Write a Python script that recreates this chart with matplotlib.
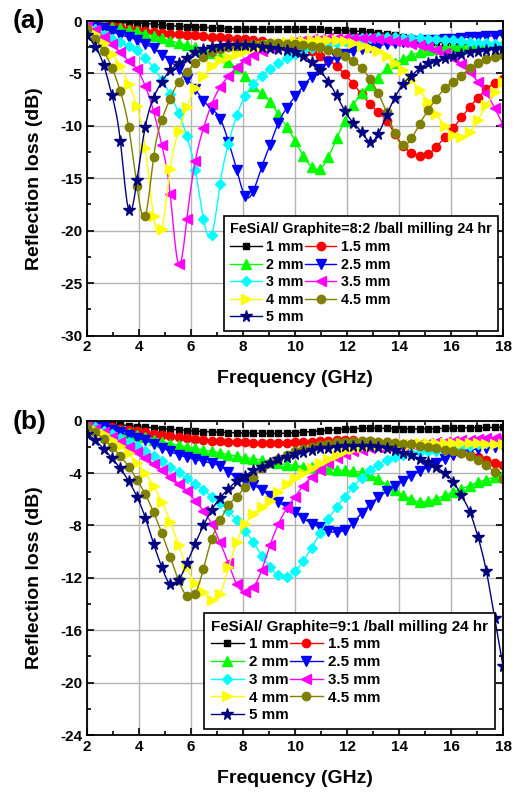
import matplotlib
matplotlib.use('Agg')
import matplotlib.pyplot as plt
import numpy as np
from matplotlib.ticker import MultipleLocator
from matplotlib.lines import Line2D

plt.rcParams['font.family'] = ['Liberation Sans', 'DejaVu Sans']
plt.rcParams['font.weight'] = 'bold'
plt.rcParams['axes.unicode_minus'] = False

# frequency grid (GHz), 51 points from 2 to 18
freq = np.linspace(2, 18, 51)
labels = ['1 mm', '1.5 mm', '2 mm', '2.5 mm', '3 mm', '3.5 mm', '4 mm', '4.5 mm', '5 mm']

########## (a) FeSiAl/Graphite = 8:2 ##########
a_1mm = [0, -0.05, -0.1, -0.12, -0.15, -0.18, -0.2, -0.25, -0.3, -0.38,
         -0.45, -0.5, -0.55, -0.58, -0.6, -0.65, -0.7, -0.72, -0.74, -0.75,
         -0.76, -0.76, -0.77, -0.77, -0.78, -0.78, -0.79, -0.8, -0.8, -0.82,
         -0.85, -0.9, -0.95, -1.0, -1.05, -1.1, -1.2, -1.35, -1.5, -1.6,
         -1.8, -1.9, -2.0, -2.08, -2.15, -2.22, -2.3, -2.38, -2.45, -2.52, -2.6]
a_15mm = [0, -0.2, -0.3, -0.45, -0.6, -0.75, -0.85, -0.95, -1.05, -1.1,
          -1.2, -1.25, -1.3, -1.35, -1.45, -1.5, -1.55, -1.6, -1.7, -1.75,
          -1.85, -1.95, -2.05, -2.15, -2.3, -2.45, -2.65, -2.9, -3.3, -3.7,
          -4.3, -5.1, -6.0, -7.0, -7.9, -8.7, -9.5, -10.8, -11.9, -12.6,
          -12.9, -12.7, -12.0, -11.1, -10.2, -9.2, -8.2, -7.3, -6.5, -5.9, -5.5]
a_2mm = [-0.1, -0.25, -0.4, -0.55, -0.7, -0.85, -1.0, -1.2, -1.4, -1.65,
         -1.9, -2.1, -2.3, -2.5, -2.75, -3.05, -3.45, -3.9, -4.5, -5.2,
         -6.2, -6.9, -7.7, -8.9, -10.1, -11.4, -12.9, -13.9, -14.1, -13.0,
         -11.2, -9.5, -8.0, -6.9, -6.1, -5.4, -4.5, -4.0, -3.6, -3.25,
         -3.0, -2.8, -2.65, -2.5, -2.4, -2.35, -2.3, -2.25, -2.2, -2.15, -2.1]
a_25mm = [-0.2, -0.4, -0.7, -1.0, -1.3, -1.55, -1.8, -2.2, -2.6, -3.2,
          -3.8, -4.6, -5.5, -6.5, -7.6, -8.4, -9.3, -11.5, -14.2, -16.7,
          -16.2, -13.9, -11.8, -9.7, -8.3, -7.2, -6.2, -5.3, -4.6, -3.9,
          -3.5, -3.15, -2.9, -2.7, -2.5, -2.35, -2.2, -2.1, -2.0, -1.95,
          -1.9, -1.85, -1.8, -1.75, -1.7, -1.6, -1.55, -1.5, -1.45, -1.4, -1.35]
a_3mm = [-0.3, -0.8, -1.3, -1.7, -2.0, -2.4, -2.8, -3.5, -4.5, -5.6,
         -7.0, -8.75, -11.0, -14.2, -18.9, -20.4, -15.5, -11.7, -9.0, -7.2,
         -6.0, -5.2, -4.6, -4.05, -3.5, -3.1, -2.8, -2.6, -2.45, -2.25,
         -2.05, -1.9, -1.75, -1.65, -1.6, -1.55, -1.55, -1.55, -1.6, -1.62,
         -1.65, -1.7, -1.75, -1.8, -1.85, -1.9, -2.0, -2.05, -2.1, -2.2, -2.3]
a_35mm = [-0.5, -0.9, -1.5, -2.2, -3.0, -3.8, -4.6, -6.2, -8.6, -11.85,
          -16.5, -23.2, -18.9, -13.4, -10.2, -7.9, -6.3, -5.25, -4.4, -3.75,
          -3.25, -2.85, -2.55, -2.3, -2.1, -1.95, -1.85, -1.75, -1.7, -1.65,
          -1.62, -1.6, -1.6, -1.62, -1.65, -1.7, -1.8, -1.9, -2.0, -2.15,
          -2.3, -2.5, -2.75, -3.05, -3.5, -4.1, -4.9, -5.8, -6.9, -8.3, -9.9]
a_4mm = [-0.6, -1.2, -2.1, -3.1, -4.3, -6.0, -8.1, -12.1, -18.6, -19.8,
         -14.1, -10.5, -8.2, -6.4, -5.25, -4.3, -3.7, -3.4, -3.1, -2.85,
         -2.6, -2.4, -2.25, -2.1, -2.0, -1.95, -1.9, -1.85, -1.8, -1.8,
         -1.85, -1.95, -2.1, -2.35, -2.6, -2.9, -3.3, -4.0, -4.7, -5.6,
         -6.6, -7.7, -8.9, -10.0, -10.9, -11.1, -10.6, -9.4, -8.0, -6.8, -5.8]
a_45mm = [-0.8, -1.7, -2.9, -4.45, -6.7, -10.1, -15.7, -18.6, -13.0, -9.4,
          -7.4, -5.8, -4.85, -4.0, -3.4, -3.0, -2.7, -2.5, -2.35, -2.25,
          -2.2, -2.15, -2.1, -2.1, -2.15, -2.2, -2.25, -2.35, -2.5, -2.75,
          -3.0, -3.35, -3.8, -4.5, -5.5, -6.9, -8.7, -10.7, -11.85, -11.2,
          -9.8, -8.5, -7.4, -6.4, -5.8, -5.2, -4.5, -4.05, -3.65, -3.4, -3.25]
a_5mm = [-1.3, -2.45, -4.2, -7.1, -11.4, -18.0, -15.2, -10.1, -7.3, -5.8,
         -4.7, -4.05, -3.5, -3.0, -2.7, -2.5, -2.35, -2.3, -2.3, -2.3,
         -2.35, -2.45, -2.55, -2.65, -2.8, -3.0, -3.3, -3.9, -4.7, -5.8,
         -7.1, -8.6, -9.7, -10.6, -11.5, -10.8, -9.0, -7.3, -6.0, -5.2,
         -4.5, -4.05, -3.8, -3.55, -3.3, -3.1, -3.0, -2.9, -2.75, -2.65, -2.6]

########## (b) FeSiAl/Graphite = 9:1 ##########
b_1mm = [0, -0.1, -0.15, -0.22, -0.3, -0.38, -0.45, -0.5, -0.55, -0.6,
         -0.65, -0.7, -0.75, -0.8, -0.83, -0.86, -0.89, -0.91, -0.93, -0.95,
         -0.96, -0.97, -0.97, -0.96, -0.95, -0.92, -0.88, -0.83, -0.78, -0.73,
         -0.68, -0.64, -0.6, -0.58, -0.57, -0.57, -0.58, -0.6, -0.62, -0.63,
         -0.63, -0.62, -0.6, -0.58, -0.57, -0.55, -0.54, -0.53, -0.52, -0.51, -0.5]
b_15mm = [-0.05, -0.2, -0.35, -0.5, -0.6, -0.7, -0.8, -0.9, -1.0, -1.1,
          -1.2, -1.28, -1.35, -1.42, -1.48, -1.53, -1.57, -1.6, -1.63, -1.65,
          -1.67, -1.68, -1.68, -1.68, -1.67, -1.65, -1.62, -1.59, -1.56, -1.53,
          -1.5, -1.5, -1.5, -1.52, -1.55, -1.6, -1.65, -1.7, -1.75, -1.8,
          -1.85, -1.95, -2.05, -2.15, -2.3, -2.45, -2.6, -2.8, -3.0, -3.2, -3.4]
b_2mm = [-0.1, -0.33, -0.55, -0.7, -0.82, -0.95, -1.1, -1.28, -1.45, -1.6,
         -1.75, -1.88, -2.0, -2.12, -2.23, -2.35, -2.45, -2.6, -2.72, -2.82,
         -2.9, -3.0, -3.12, -3.25, -3.35, -3.42, -3.5, -3.56, -3.62, -3.68,
         -3.74, -3.8, -3.85, -3.95, -4.15, -4.45, -4.9, -5.3, -5.7, -6.0,
         -6.2, -6.15, -5.95, -5.7, -5.45, -5.2, -4.95, -4.7, -4.5, -4.3, -4.1]
b_25mm = [-0.1, -0.3, -0.5, -0.7, -0.9, -1.1, -1.3, -1.5, -1.75, -2.05,
          -2.35, -2.6, -2.8, -2.95, -3.1, -3.25, -3.45, -3.9, -4.35, -4.6,
          -4.9, -5.3, -5.75, -6.2, -6.6, -7.0, -7.45, -7.85, -8.15, -8.45,
          -8.5, -8.35, -7.8, -7.05, -6.4, -5.85, -5.4, -5.0, -4.6, -4.2,
          -3.85, -3.5, -3.2, -2.9, -2.6, -2.4, -2.25, -2.15, -2.05, -2.0, -1.95]
b_3mm = [-0.2, -0.5, -0.75, -1.0, -1.3, -1.6, -1.9, -2.3, -2.7, -3.1,
         -3.5, -3.95, -4.4, -4.85, -5.3, -5.8, -6.3, -6.9, -7.6, -8.4,
         -9.3, -10.3, -11.2, -11.8, -11.9, -11.5, -10.7, -9.7, -8.6, -7.5,
         -6.6, -5.8, -5.05, -4.35, -3.8, -3.35, -3.0, -2.75, -2.6, -2.5,
         -2.4, -2.35, -2.3, -2.2, -2.1, -2.0, -1.9, -1.8, -1.7, -1.6, -1.5]
b_35mm = [-0.3, -0.6, -0.9, -1.25, -1.6, -2.0, -2.4, -2.85, -3.3, -3.8,
          -4.3, -4.8, -5.4, -6.1, -6.9, -7.9, -9.3, -10.9, -12.5, -13.1,
          -12.7, -11.4, -9.5, -7.9, -6.7, -5.8, -4.95, -4.3, -3.75, -3.25,
          -2.85, -2.55, -2.35, -2.2, -2.1, -2.0, -1.95, -1.9, -1.85, -1.8,
          -1.75, -1.7, -1.65, -1.6, -1.55, -1.5, -1.45, -1.4, -1.35, -1.3, -1.25]
b_4mm = [-0.4, -0.7, -1.05, -1.45, -1.9, -2.5, -3.2, -4.0, -5.0, -6.2,
         -7.7, -9.5, -11.2, -12.4, -13.1, -13.7, -13.25, -11.2, -9.3, -7.9,
         -7.1, -6.6, -6.1, -5.45, -4.8, -4.35, -4.0, -3.6, -3.25, -2.9,
         -2.6, -2.35, -2.15, -2.0, -1.9, -1.85, -1.8, -1.78, -1.76, -1.75,
         -1.74, -1.73, -1.73, -1.72, -1.72, -1.72, -1.73, -1.74, -1.75, -1.77, -1.8]
b_45mm = [-0.5, -0.9, -1.4, -2.0, -2.7, -3.5, -4.5, -5.6, -7.0, -8.6,
          -10.4, -12.2, -13.4, -13.2, -11.3, -9.0, -7.6, -6.45, -5.8, -5.05,
          -4.3, -3.65, -3.25, -2.9, -2.6, -2.35, -2.15, -2.0, -1.85, -1.75,
          -1.65, -1.6, -1.55, -1.55, -1.55, -1.6, -1.65, -1.7, -1.75, -1.8,
          -1.9, -2.0, -2.1, -2.2, -2.35, -2.5, -2.7, -3.0, -3.4, -3.95, -4.45]
b_5mm = [-1.0, -1.5, -2.15, -2.85, -3.65, -4.6, -5.8, -7.4, -9.4, -11.2,
         -12.5, -12.2, -10.9, -9.4, -8.0, -6.8, -5.9, -5.2, -4.6, -4.2,
         -3.8, -3.5, -3.25, -2.95, -2.75, -2.55, -2.4, -2.25, -2.12, -2.05,
         -2.0, -1.95, -1.93, -1.93, -1.95, -2.0, -2.1, -2.25, -2.45, -2.65,
         -2.9, -3.15, -3.55, -4.0, -4.65, -5.7, -6.95, -8.9, -11.5, -15.1, -18.7]

data_a = [a_1mm, a_15mm, a_2mm, a_25mm, a_3mm, a_35mm, a_4mm, a_45mm, a_5mm]
data_b = [b_1mm, b_15mm, b_2mm, b_25mm, b_3mm, b_35mm, b_4mm, b_45mm, b_5mm]

colors = ['#000000', '#ff0000', '#00ff00', '#0000ff', '#00ffff',
          '#ff00ff', '#ffff00', '#808000', '#000080']
markers = ['s', 'o', '^', 'v', 'D', '<', '>', 'o', '*']
msizes = [5, 6, 6.5, 6.5, 5, 6.5, 6.5, 6, 8.5]


def spline_line(x, y, npts=600):
    # natural cubic spline, only used to draw the connecting line (Origin "spline" style)
    x = np.asarray(x, float)
    y = np.asarray(y, float)
    n = len(x)
    h = np.diff(x)
    A = np.zeros((n, n))
    r = np.zeros(n)
    A[0, 0] = A[-1, -1] = 1
    for i in range(1, n - 1):
        A[i, i - 1] = h[i - 1]
        A[i, i] = 2 * (h[i - 1] + h[i])
        A[i, i + 1] = h[i]
        r[i] = 6 * ((y[i + 1] - y[i]) / h[i] - (y[i] - y[i - 1]) / h[i - 1])
    M = np.linalg.solve(A, r)
    xs = np.linspace(x[0], x[-1], npts)
    idx = np.clip(np.searchsorted(x, xs) - 1, 0, n - 2)
    t0, t1 = x[idx], x[idx + 1]
    hh = t1 - t0
    a = (t1 - xs) / hh
    b = (xs - t0) / hh
    ys = a * y[idx] + b * y[idx + 1] + ((a ** 3 - a) * M[idx] + (b ** 3 - b) * M[idx + 1]) * hh ** 2 / 6
    return xs, ys


def panel(ax, data, ymin, ystep, title, anchor, legsize):
    handles = []
    for vals, c, m, s, lab in zip(data, colors, markers, msizes, labels):
        xs, ys = spline_line(freq, vals)
        ax.plot(xs, ys, color=c, lw=1)
        ax.plot(freq, vals, ls='none', marker=m, ms=s, mec=c, mfc=c)
        handles.append(Line2D([], [], color=c, lw=1, marker=m, ms=s, mec=c, mfc=c))
    ax.set_xlim(2, 18)
    ax.set_ylim(ymin, 0)
    ax.xaxis.set_major_locator(MultipleLocator(2))
    ax.xaxis.set_minor_locator(MultipleLocator(1))
    ax.yaxis.set_major_locator(MultipleLocator(ystep))
    ax.yaxis.set_minor_locator(MultipleLocator(ystep / 2))
    ax.set_axisbelow(True)
    ax.grid(True, which='major', color='#b4b4b4', lw=1)
    ax.tick_params(which='both', direction='in', top=True, right=True,
                   labelsize=11, width=1.2)
    ax.tick_params(which='major', length=5)
    ax.tick_params(which='minor', length=3)
    for sp in ax.spines.values():
        sp.set_linewidth(1.3)
    ax.set_xlabel('Frequency (GHz)', fontsize=14, fontweight='bold')
    ax.set_ylabel('Reflection loss (dB)', fontsize=14, fontweight='bold')
    ax.xaxis.set_label_coords(0.5, -0.11)
    ax.yaxis.set_label_coords(-0.105, 0.5)
    # legend filled row by row like the original
    order = [0, 2, 4, 6, 8, 1, 3, 5, 7]
    leg = ax.legend([handles[k] for k in order], [labels[k] for k in order],
                    ncol=2, title=title, loc='upper left', bbox_to_anchor=anchor,
                    borderaxespad=0, fontsize=legsize, title_fontsize=legsize, numpoints=1,
                    handlelength=2.2, handletextpad=0.3, columnspacing=0.1,
                    labelspacing=0.25, borderpad=0.45, frameon=True,
                    fancybox=False, framealpha=1, edgecolor='black',
                    alignment='left')
    leg.get_frame().set_linewidth(1.2)
    leg.get_title().set_fontweight('bold')


fig = plt.figure(figsize=(5.26, 7.93), dpi=100)
ax_a = fig.add_axes([0.1654, 0.5769, 0.7909, 0.3966])
ax_b = fig.add_axes([0.1654, 0.0731, 0.7909, 0.3964])

panel(ax_a, data_a, -30, 5, 'FeSiAl/ Graphite=8:2 /ball milling 24 hr', (0.329, 0.38), 10.3)
panel(ax_b, data_b, -24, 4, 'FeSiAl/ Graphite=9:1 /ball milling 24 hr', (0.281, 0.389), 10.9)

fig.text(29 / 526, 1 - 21 / 793, '(a)', fontsize=19, fontweight='bold', ha='center', va='center')
fig.text(30 / 526, 1 - 422 / 793, '(b)', fontsize=19, fontweight='bold', ha='center', va='center')

fig.savefig('out.png', dpi=100)
